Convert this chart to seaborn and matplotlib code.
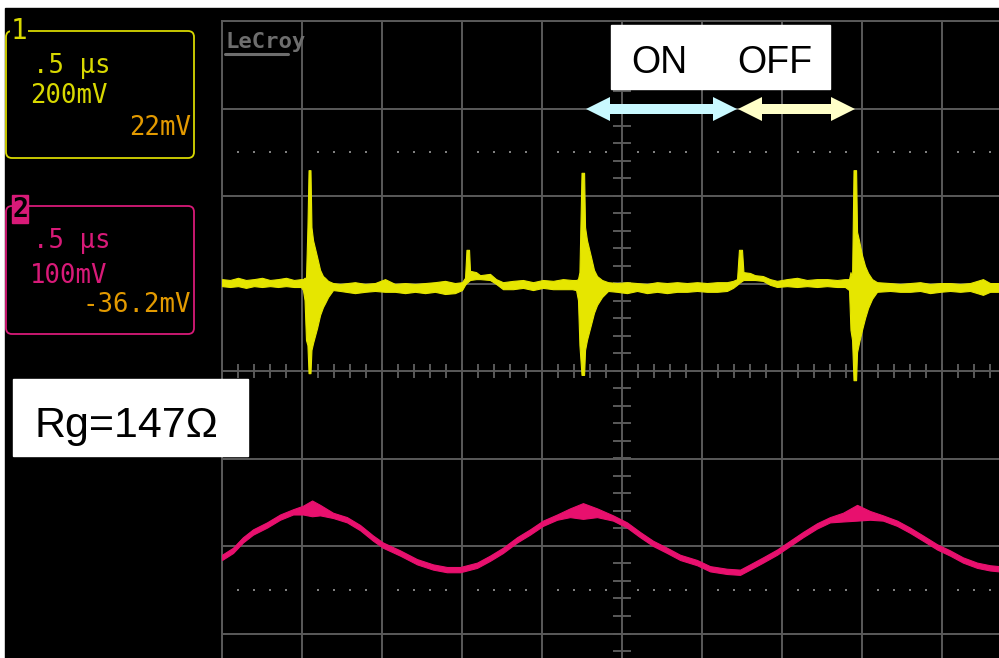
import matplotlib
matplotlib.use('Agg')
import matplotlib.pyplot as plt
from matplotlib.patches import Rectangle, FancyBboxPatch, Polygon
import seaborn as sns
import pandas as pd
import numpy as np

# channel 1, 200 mV/div, peak-detect envelope (time in us, mV)
ch1_t = [0.000, 0.050, 0.100, 0.150, 0.200, 0.250, 0.300, 0.350, 0.400, 0.450,
         0.494, 0.506, 0.516, 0.525, 0.534, 0.541, 0.553, 0.559, 0.569, 0.594,
         0.613, 0.631, 0.644, 0.663, 0.694, 0.738,
         0.831, 0.894, 0.956, 1.019, 1.081, 1.144, 1.206, 1.269, 1.331, 1.394, 1.456, 1.500,
         1.519, 1.528, 1.544, 1.550, 1.588, 1.613, 1.675, 1.713, 1.756,
         1.819, 1.881, 1.944, 2.006, 2.069, 2.131, 2.188,
         2.213, 2.225, 2.234, 2.247, 2.263, 2.269, 2.281, 2.306, 2.325, 2.344, 2.375, 2.413,
         2.469, 2.531, 2.594, 2.656, 2.719, 2.781, 2.844, 2.906, 2.969, 3.031, 3.094, 3.156, 3.194,
         3.219, 3.231, 3.250, 3.259, 3.300, 3.331, 3.381, 3.425, 3.469,
         3.531, 3.594, 3.656, 3.719, 3.781, 3.844, 3.894,
         3.919, 3.928, 3.938, 3.947, 3.963, 3.969, 3.981, 4.000, 4.019, 4.038, 4.063, 4.094,
         4.175, 4.238, 4.300, 4.363, 4.425, 4.488, 4.550, 4.613, 4.675, 4.756, 4.800, 4.863]
ch1_hi = [10, 8, 13, 8, 10, 13, 8, 10, 13, 8,
          10, 10, 13, 13, 129, 259, 259, 129, 99, 61,
          31, 17, 13, 6, 1, -1,
          3, -1, 1, 10, -1, 1, -1, 1, 3, 6, 1, 3,
          13, 77, 77, 29, 26, 19, 22, 10, 3,
          6, 8, 3, 8, 6, 10, 8,
          8, 10, 26, 253, 253, 129, 99, 61, 31, 17, 8, 3,
          1, 3, 1, -1, 3, 1, 3, 1, 3, 1, 3, 3, 6,
          10, 77, 77, 26, 24, 19, 17, 10, 6,
          10, 13, 8, 10, 10, 8, 10,
          10, 26, 13, 259, 259, 118, 99, 65, 40, 24, 10, 3,
          1, -1, 1, 3, -1, 1, 1, -1, 1, 10, 1, 1]
ch1_lo = [-6, -8, -6, -10, -6, -8, -6, -8, -6, -8,
          -8, -15, -38, -129, -141, -205, -205, -152, -136, -102,
          -72, -54, -45, -31, -15, -17,
          -22, -19, -17, -19, -19, -22, -19, -22, -19, -24, -22, -15,
          -3, 1, 6, 8, 10, 10, 8, -1, -13,
          -13, -10, -15, -10, -13, -13, -13,
          -15, -38, -141, -209, -209, -152, -129, -94, -67, -49, -31, -17,
          -19, -22, -17, -22, -19, -22, -19, -19, -17, -19, -19, -17, -10,
          -3, 1, 6, 8, 8, 8, 6, -3, -8,
          -6, -8, -6, -8, -6, -8, -8,
          -15, -106, -129, -221, -221, -157, -136, -106, -79, -56, -35, -19,
          -17, -19, -19, -17, -22, -19, -17, -19, -17, -26, -19, -19]

# channel 2, 100 mV/div (time in us, mV, noise half-width mV)
ch2_t = [0.000, 0.069, 0.131, 0.194, 0.281, 0.363, 0.444, 0.506, 0.563, 0.613,
         0.694, 0.781, 0.863, 0.944, 1.006, 1.113, 1.219, 1.319, 1.406, 1.488,
         1.531, 1.594, 1.675, 1.756, 1.844, 1.925, 2.006, 2.094, 2.175, 2.256,
         2.344, 2.444, 2.531, 2.613, 2.694, 2.781, 2.863, 2.969, 3.050, 3.156,
         3.238, 3.300, 3.381, 3.469, 3.550, 3.631, 3.719, 3.800, 3.881, 3.969,
         4.050, 4.131, 4.219, 4.300, 4.381, 4.469, 4.550, 4.631, 4.719, 4.800,
         4.856]
ch2_mid = [-21, -13, -1, 8, 16, 25, 31, 33, 35, 33,
           27, 22, 13, 1, -7, -16, -26, -32, -35, -35,
           -33, -30, -22, -13, -1, 8, 18, 25, 30, 32,
           30, 24, 16, 5, -5, -13, -21, -27, -34, -37,
           -38, -32, -24, -15, -5, 5, 15, 22, 25, 30,
           27, 24, 18, 10, 1, -9, -16, -24, -30, -33,
           -34]
ch2_band = [3, 3, 3, 3, 3, 3, 3, 5, 9, 6,
            3, 3, 3, 3, 3, 3, 3, 3, 3, 3,
            3, 3, 3, 3, 3, 3, 3, 3, 5, 9,
            5, 3, 3, 3, 3, 3, 3, 3, 3, 3,
            3, 3, 3, 3, 3, 3, 3, 3, 5, 9,
            5, 3, 3, 3, 3, 3, 3, 3, 3, 3,
            3]

ch1_scale, ch1_pos = 200, 1.0
ch2_scale, ch2_pos = 100, -1.92

ch1_labels = ['.5 μs', '200mV', '22mV']
ch2_labels = ['.5 μs', '100mV', '-36.2mV']

grid_c = '#5a5a5a'
yel = '#e6e600'
yel_txt = '#d8d800'
pink = '#e8106e'
mag_txt = '#d81a78'
orange = '#e39a00'

sns.set_style('dark', {'axes.facecolor': 'none', 'figure.facecolor': 'white'})
plt.rcParams['font.family'] = ['Liberation Sans', 'DejaVu Sans']

W, H = 999, 658
fig = plt.figure(figsize=(W / 100, H / 100), dpi=100)

bg = fig.add_axes([0, 0, 1, 1], zorder=0)
bg.set_xlim(0, W)
bg.set_ylim(H, 0)
bg.axis('off')
bg.add_patch(Rectangle((5, 8), W - 5, H - 8, color='black'))

# scope graticule: 10 x 8 divisions
ax = fig.add_axes([222 / W, 1 - 721 / H, 800 / W, 700 / H], zorder=1)
ax.set_facecolor('none')
ax.set_xlim(0, 5)
ax.set_ylim(-4, 4)
ax.set_xticks(np.arange(0, 5.01, 0.5))
ax.set_yticks(np.arange(-4, 4.01, 1))
ax.tick_params(length=0, labelbottom=False, labelleft=False)
ax.grid(True, color=grid_c, lw=1.4)
for s in ax.spines.values():
    s.set_color(grid_c)
    s.set_linewidth(1.4)

tt = np.arange(0, 5.001, 0.1)
ax.vlines(tt, -0.08, 0.08, color=grid_c, lw=1.4)
vv = np.arange(-4, 4.001, 0.2)
ax.hlines(vv, 2.5 - 0.056, 2.5 + 0.056, color=grid_c, lw=1.4)
dt = tt[np.abs(tt / 0.5 - np.round(tt / 0.5)) > 0.01]
for yd in (2.5, -2.5):
    ax.plot(dt, np.full_like(dt, yd), 's', ms=1.6, mew=0, color='#808080')

# traces
ax.fill_between(ch1_t, np.array(ch1_lo) / ch1_scale + ch1_pos,
                np.array(ch1_hi) / ch1_scale + ch1_pos,
                color=yel, lw=0.8, ec=yel, zorder=3)

df2 = pd.DataFrame({'t': ch2_t, 'v': np.array(ch2_mid) / ch2_scale + ch2_pos,
                    'b': np.array(ch2_band) / ch2_scale})
ax.fill_between(df2['t'], df2['v'] - df2['b'], df2['v'] + df2['b'],
                color=pink, lw=0.8, ec=pink, zorder=3)
sns.lineplot(data=df2, x='t', y='v', ax=ax, color=pink, lw=1.8,
             estimator=None, sort=False, zorder=3)
ax.set_xlabel('')
ax.set_ylabel('')

# overlay: channel boxes, logo, annotations
ov = fig.add_axes([0, 0, 1, 1], zorder=3)
ov.set_xlim(0, W)
ov.set_ylim(H, 0)
ov.axis('off')

mono = 'DejaVu Sans Mono'
ov.add_patch(FancyBboxPatch((6, 31), 188, 127, boxstyle='round,pad=0,rounding_size=6',
                            fill=False, ec=yel_txt, lw=1.3))
ov.text(19, 31, '1', color=yel_txt, fontsize=20, family=mono,
        ha='center', va='center', bbox=dict(fc='black', ec='none', pad=0.5))
ov.text(33, 73, ch1_labels[0], color=yel_txt, fontsize=18.5, family=mono)
ov.text(30, 103, ch1_labels[1], color=yel_txt, fontsize=18.5, family=mono)
ov.text(191, 135, ch1_labels[2], color=orange, fontsize=18.5, family=mono, ha='right')

ov.add_patch(FancyBboxPatch((6, 206), 188, 128, boxstyle='round,pad=0,rounding_size=6',
                            fill=False, ec=mag_txt, lw=1.3))
ov.add_patch(Rectangle((12, 195), 16, 28, color=mag_txt))
ov.text(20, 210, '2', color='black', fontsize=19, fontweight='bold', family=mono,
        ha='center', va='center')
ov.text(33, 248, ch2_labels[0], color=mag_txt, fontsize=18.5, family=mono)
ov.text(30, 283, ch2_labels[1], color=mag_txt, fontsize=18.5, family=mono)
ov.text(191, 312, ch2_labels[2], color=orange, fontsize=18.5, family=mono, ha='right')

ov.text(225, 48, 'LeCroy', color='#6e6e6e', fontsize=16, fontweight='bold', family=mono)
ov.plot([225, 288], [54, 54], color='#6e6e6e', lw=2.2)

ov.add_patch(Rectangle((611, 25), 219, 64, color='white'))
ov.text(631, 73, 'ON', fontsize=27, color='black')
ov.text(737, 73, 'OFF', fontsize=27, color='black')


def double_arrow(x0, x1, y, color, hl=24, hw=12, sw=5):
    pts = [(x0, y), (x0 + hl, y - hw), (x0 + hl, y - sw), (x1 - hl, y - sw),
           (x1 - hl, y - hw), (x1, y), (x1 - hl, y + hw), (x1 - hl, y + sw),
           (x0 + hl, y + sw), (x0 + hl, y + hw)]
    ov.add_patch(Polygon(pts, closed=True, fc=color, ec='none'))


double_arrow(586, 737, 109, '#c9f9ff')
double_arrow(738, 855, 109, '#ffffc8')

ov.add_patch(Rectangle((13, 379), 235, 77, color='white'))
ov.text(35, 437, 'Rg=147Ω', fontsize=31, color='black')

fig.savefig('out.png', dpi=100)
